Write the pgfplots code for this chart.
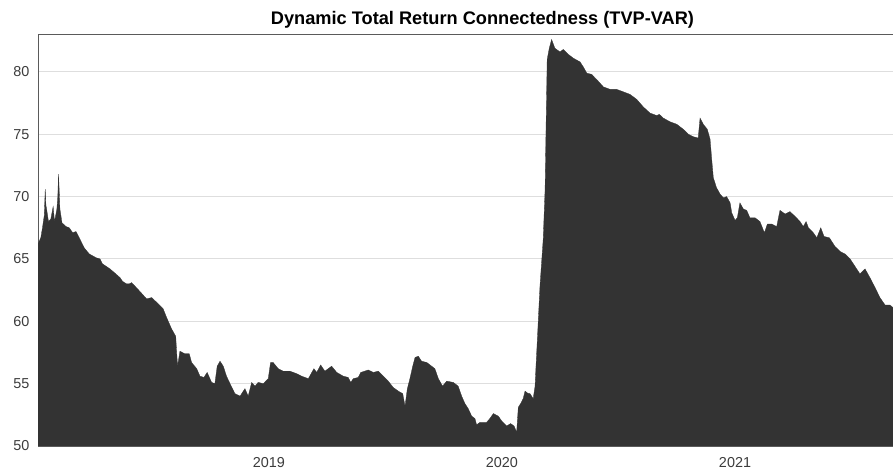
\documentclass[border=0pt]{standalone}
\usepackage{pgfplots}
\pgfplotsset{compat=1.18}
\usepackage{fontspec}
\setmainfont{Liberation Sans}
\definecolor{areac}{RGB}{51,51,51}
\definecolor{gridc}{RGB}{222,222,222}
\definecolor{tickc}{RGB}{60,60,60}
\definecolor{boxc}{RGB}{90,90,90}
\begin{document}
\begin{tikzpicture}
\begin{axis}[
  name=ax,
  scale only axis,
  width=855pt, height=412pt,
  xmin=2018.009, xmax=2021.678,
  ymin=50, ymax=83.04,
  xtick={2019,2020,2021},
  xticklabels={2019,2020,2021},
  ytick={50,55,60,65,70,75,80},
  ymajorgrids,
  grid style={gridc, line width=0.9pt},
  major tick length=0pt,
  axis line style={boxc, line width=0.9pt},
  /pgf/number format/assume math mode=true,
  tick label style={font=\fontsize{14.4}{16}\selectfont, text=tickc},
  yticklabel style={xshift=-5pt},
  xticklabel style={yshift=-8pt},
  axis on top=false,
]
\addplot[fill=areac, draw=areac, line width=0.3pt] coordinates {
(2018.009,66.2)(2018.021,66.7)(2018.029,67.6)(2018.036,68.5)(2018.040,70.6)(2018.043,69.3)
(2018.046,69.0)(2018.054,68.0)(2018.064,68.2)(2018.074,69.2)(2018.080,68.0)(2018.090,69.0)
(2018.094,70.0)(2018.097,71.8)(2018.100,70.5)(2018.103,69.0)(2018.112,67.9)(2018.129,67.6)
(2018.143,67.5)(2018.158,67.1)(2018.172,67.2)(2018.186,66.7)(2018.207,65.9)(2018.229,65.4)
(2018.258,65.1)(2018.275,65.0)(2018.286,64.6)(2018.318,64.2)(2018.343,63.8)(2018.361,63.5)
(2018.372,63.2)(2018.389,63.0)(2018.400,63.0)(2018.411,63.1)(2018.446,62.4)(2018.475,61.8)
(2018.497,61.9)(2018.525,61.4)(2018.546,61.0)(2018.561,60.3)(2018.582,59.4)(2018.600,58.8)
(2018.604,57.5)(2018.608,56.4)(2018.618,57.6)(2018.639,57.4)(2018.658,57.4)(2018.668,56.7)
(2018.690,56.2)(2018.704,55.6)(2018.721,55.5)(2018.735,55.9)(2018.754,55.1)(2018.768,55.0)
(2018.778,56.4)(2018.790,56.8)(2018.804,56.4)(2018.818,55.6)(2018.833,55.0)(2018.854,54.2)
(2018.876,54.0)(2018.897,54.6)(2018.911,54.0)(2018.926,55.1)(2018.940,54.8)(2018.954,55.1)
(2018.976,55.0)(2018.997,55.4)(2019.007,56.7)(2019.018,56.7)(2019.040,56.2)(2019.061,56.0)
(2019.090,56.0)(2019.119,55.8)(2019.140,55.6)(2019.169,55.4)(2019.193,56.2)(2019.205,55.9)
(2019.222,56.5)(2019.240,56.0)(2019.269,56.4)(2019.291,55.9)(2019.319,55.6)(2019.340,55.5)
(2019.351,55.1)(2019.362,55.4)(2019.383,55.5)(2019.394,55.9)(2019.426,56.1)(2019.448,55.9)
(2019.469,56.0)(2019.491,55.6)(2019.512,55.2)(2019.533,54.7)(2019.555,54.4)(2019.574,54.2)
(2019.584,53.2)(2019.594,54.6)(2019.605,55.4)(2019.617,56.4)(2019.627,57.1)(2019.641,57.2)
(2019.655,56.8)(2019.677,56.7)(2019.698,56.4)(2019.712,56.2)(2019.727,55.4)(2019.745,54.8)
(2019.763,55.2)(2019.791,55.1)(2019.812,54.8)(2019.827,54.0)(2019.841,53.4)(2019.855,53.0)
(2019.870,52.4)(2019.884,52.2)(2019.891,51.7)(2019.906,51.9)(2019.934,51.9)(2019.948,52.2)
(2019.963,52.6)(2019.984,52.4)(2019.999,52.0)(2020.020,51.6)(2020.037,51.8)(2020.052,51.6)
(2020.063,51.1)(2020.070,53.1)(2020.080,53.4)(2020.091,53.8)(2020.099,54.4)(2020.113,54.2)
(2020.120,54.2)(2020.134,53.8)(2020.142,54.8)(2020.146,56.4)(2020.152,58.6)(2020.163,62.8)
(2020.177,66.6)(2020.185,70.6)(2020.189,75.4)(2020.194,81.0)(2020.203,81.9)(2020.213,82.6)
(2020.227,81.9)(2020.249,81.6)(2020.263,81.8)(2020.285,81.4)(2020.306,81.1)(2020.335,80.8)
(2020.349,80.4)(2020.364,79.9)(2020.385,79.8)(2020.406,79.4)(2020.435,78.8)(2020.464,78.6)
(2020.492,78.6)(2020.521,78.4)(2020.549,78.2)(2020.578,77.8)(2020.606,77.2)(2020.635,76.7)
(2020.664,76.5)(2020.675,76.6)(2020.692,76.3)(2020.721,76.0)(2020.750,75.8)(2020.778,75.4)
(2020.800,75.0)(2020.821,74.8)(2020.842,74.7)(2020.850,76.3)(2020.864,75.8)(2020.881,75.4)
(2020.893,74.6)(2020.900,73.0)(2020.907,71.5)(2020.921,70.7)(2020.936,70.2)(2020.950,69.9)
(2020.964,70.0)(2020.979,69.5)(2020.986,68.7)(2021.000,68.1)(2021.010,68.3)(2021.021,69.5)
(2021.036,69.0)(2021.050,68.9)(2021.064,68.3)(2021.086,68.3)(2021.107,68.0)(2021.126,67.1)
(2021.139,67.8)(2021.157,67.8)(2021.179,67.6)(2021.193,68.9)(2021.215,68.6)(2021.236,68.8)
(2021.258,68.4)(2021.279,68.0)(2021.293,67.6)(2021.305,68.0)(2021.315,67.5)(2021.336,67.1)
(2021.351,66.7)(2021.368,67.5)(2021.382,66.8)(2021.405,66.7)(2021.429,66.0)(2021.451,65.6)
(2021.472,65.4)(2021.494,65.0)(2021.515,64.4)(2021.536,63.8)(2021.558,64.2)(2021.579,63.5)
(2021.601,62.7)(2021.622,61.9)(2021.644,61.3)(2021.665,61.3)(2021.678,61.1)
} \closedcycle;
\end{axis}
\node[font=\bfseries\fontsize{18.2}{20}\selectfont, anchor=base] at ([xshift=444.5pt, yshift=9pt]ax.north west) {Dynamic Total Return Connectedness (TVP-VAR)};
\pgfresetboundingbox
\path[use as bounding box] ([xshift=-38pt, yshift=-29pt]ax.south west) rectangle ([yshift=34pt]ax.north east);
\end{tikzpicture}
\end{document}
